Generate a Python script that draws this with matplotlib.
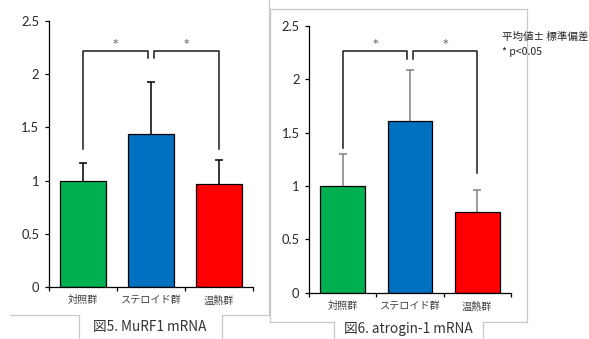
import matplotlib
matplotlib.use('Agg')
import matplotlib.pyplot as plt
from matplotlib.lines import Line2D

plt.rcParams['font.family'] = ['Lato', 'Noto Sans CJK JP', 'DejaVu Sans']

# データ
groups = ['対照群', 'ステロイド群', '温熱群']
bar_colors = ['#00b050', '#0070c0', '#ff0000']

murf1_mean = [1.00, 1.435, 0.968]
murf1_sd = [0.163, 0.492, 0.222]

atrogin_mean = [1.00, 1.606, 0.753]
atrogin_sd = [0.30, 0.478, 0.21]

yticks = [0, 0.5, 1, 1.5, 2, 2.5]
yticklabels = ['0', '0.5', '1', '1.5', '2', '2.5']

# 有意差ブラケット: (上端, 左脚下端, 中央脚下端, 右脚下端)
murf1_bracket = (2.22, 1.30, 2.15, 1.30)
atrogin_bracket = (2.265, 1.36, 2.19, 1.12)

W, H = 589, 339
fig = plt.figure(figsize=(W / 100, H / 100), dpi=100, facecolor='white')


def px_axes(x0, x1, ytop, ybot):
    return fig.add_axes([x0 / W, (H - ybot) / H, (x1 - x0) / W, (ybot - ytop) / H])


def draw_panel(ax, means, sds, bracket, err_color):
    x = range(len(groups))
    ax.bar(x, means, width=0.67, color=bar_colors, edgecolor='black',
           linewidth=0.9, zorder=2)
    eb = ax.errorbar(x, means, yerr=[[0] * len(sds), sds], fmt='none',
                     ecolor=err_color, elinewidth=1.1, capsize=2.6,
                     capthick=1.1, zorder=1)
    # 下側のキャップは不要
    eb.lines[1][0].set_visible(False)
    ax.set_xlim(-0.5, 2.5)
    ax.set_ylim(0, 2.5)
    ax.set_yticks(yticks)
    ax.set_yticklabels(yticklabels)
    ax.set_xticks(list(x))
    ax.set_xticklabels(groups, fontsize=7.3, color='#404040',
                       family=['Noto Sans CJK JP', 'DejaVu Sans'])
    ax.set_xticks([-0.5, 0.5, 1.5, 2.5], minor=True)
    ax.tick_params(axis='x', which='major', length=0, pad=6)
    ax.tick_params(axis='x', which='minor', length=3, width=0.9,
                   direction='out', color='black')
    ax.tick_params(axis='y', length=3, width=0.9, direction='out',
                   labelsize=9.3, labelcolor='#262626', pad=4)
    for s in ['top', 'right']:
        ax.spines[s].set_visible(False)
    for s in ['left', 'bottom']:
        ax.spines[s].set_linewidth(0.9)
        ax.spines[s].set_color('black')
    ax.set_facecolor('none')

    top, lleg, mleg, rleg = bracket
    d = 0.044
    kw = dict(color='#1a1a1a', linewidth=1.1, clip_on=False, zorder=3)
    ax.plot([0, 0, 1 - d, 1 - d], [lleg, top, top, mleg], **kw)
    ax.plot([1 + d, 1 + d, 2, 2], [mleg, top, top, rleg], **kw)
    for cx in [(1 - d) / 2, (1 + d + 2) / 2]:
        ax.text(cx, top + 0.02, '*', ha='center', va='bottom',
                fontsize=8, color='#595959', family='DejaVu Sans')


# 枠線（背景レイヤー）
bg = fig.add_axes([0, 0, 1, 1], zorder=-1)
bg.set_xlim(0, W)
bg.set_ylim(H, 0)
bg.axis('off')
frame = '#c9c9c9'
for xs, ys in [
    ([10, 79], [315, 315]), ([222, 269], [315, 315]), ([269, 269], [0, 315]),
    ([79, 79], [315, 340]), ([222, 222], [315, 340]),
    ([270, 270], [9, 322]), ([270, 527], [9, 9]), ([527, 527], [9, 322]),
    ([270, 334], [322, 322]), ([483, 527], [322, 322]),
    ([334, 334], [322, 340]), ([483, 483], [322, 340]),
]:
    bg.add_line(Line2D(xs, ys, color=frame, linewidth=0.9))

bg.text(150, 327, '図5. MuRF1 mRNA', ha='center', va='center', fontsize=9.8,
        color='#333333', family=['Noto Sans CJK JP', 'DejaVu Sans'])
bg.text(408, 329, '図6. atrogin-1 mRNA', ha='center', va='center', fontsize=9.8,
        color='#333333', family=['Noto Sans CJK JP', 'DejaVu Sans'])
bg.text(502, 37, '平均値± 標準偏差', ha='left', va='center', fontsize=7.6,
        color='#262626', family=['Noto Sans CJK JP', 'DejaVu Sans'])
bg.text(502, 52, '* p<0.05', ha='left', va='center', fontsize=7.6,
        color='#262626', family=['Noto Sans CJK JP', 'DejaVu Sans'])

ax1 = px_axes(49, 253, 21, 287)
draw_panel(ax1, murf1_mean, murf1_sd, murf1_bracket, 'black')

ax2 = px_axes(309.3, 510.7, 26, 292.7)
draw_panel(ax2, atrogin_mean, atrogin_sd, atrogin_bracket, '#808080')

fig.savefig('out.png', dpi=100, facecolor='white')
